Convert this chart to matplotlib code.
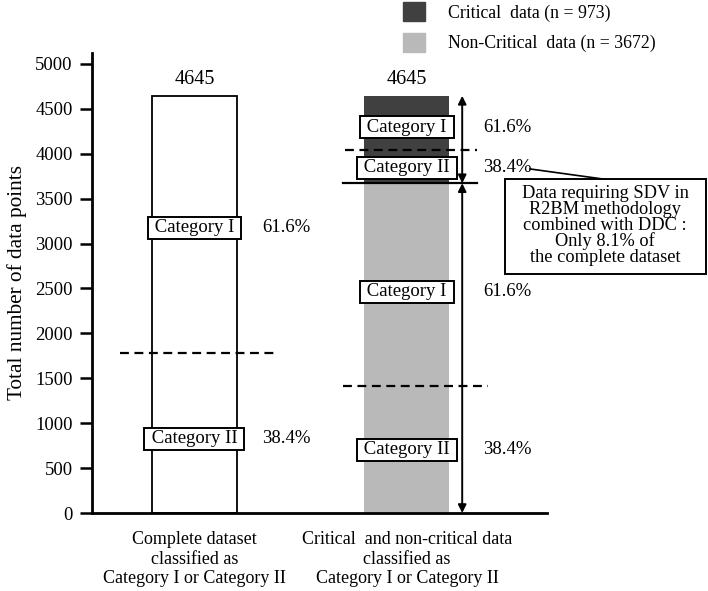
import matplotlib.pyplot as plt
from matplotlib.patches import Patch, Rectangle

plt.rcParams['font.family'] = ['Liberation Serif', 'DejaVu Serif']

# data
groups = ['Complete dataset\nclassified as\nCategory I or Category II',
          'Critical  and non-critical data\nclassified as\nCategory I or Category II']
total = 4645
critical = 973
non_critical = 3672
share_cat1 = 61.6
share_cat2 = 38.4
yticks = [0, 500, 1000, 1500, 2000, 2500, 3000, 3500, 4000, 4500, 5000]

dark = '#404040'
light = '#b9b9b9'

fig = plt.figure(figsize=(7.08, 5.91), dpi=100)
ax = fig.add_axes([92 / 708, 1 - 513 / 591, 455 / 708, 460 / 591])

xpos = [0, 1]
w = 0.4
ax.bar(xpos[0], total, width=w, color='white', edgecolor='black', linewidth=1.3, zorder=2)
ax.bar(xpos[1], non_critical, width=w, color=light, linewidth=0, zorder=2)
ax.bar(xpos[1], critical, bottom=non_critical, width=w, color=dark, linewidth=0, zorder=2)

for x in xpos:
    ax.text(x, total + 75, str(total), ha='center', va='bottom', fontsize=14.5)

# split lines
cat2_all = total * share_cat2 / 100
cat2_crit = non_critical + critical * share_cat2 / 100
cat2_non = non_critical * share_cat2 / 100
ds = (0, (4, 2.5))
ax.plot([-0.35, 0.39], [cat2_all, cat2_all], color='black', lw=1.6, ls=ds, zorder=3)
ax.plot([0.71, 1.33], [cat2_crit, cat2_crit], color='black', lw=1.6, ls=ds, zorder=3)
ax.plot([0.70, 1.38], [cat2_non, cat2_non], color='black', lw=1.6, ls=ds, zorder=3)
ax.plot([0.70, 1.33], [non_critical, non_critical], color='black', lw=1.6, zorder=3)

# arrows on the right of bar 2
ax_x = 1.26
for y0, y1 in [(non_critical, total), (0, non_critical)]:
    ax.annotate('', xy=(ax_x, y1), xytext=(ax_x, y0),
                arrowprops=dict(arrowstyle='<|-|>', color='black', lw=1.4,
                                mutation_scale=12, shrinkA=0, shrinkB=0),
                annotation_clip=False, zorder=4)

box = dict(boxstyle='square,pad=0.12', fc='white', ec='black', lw=1.4)
labels = [
    (xpos[0], 3174, 'Category I', share_cat1, 0.32),
    (xpos[0], 824, 'Category II', share_cat2, 0.32),
    (xpos[1], 4298, 'Category I', share_cat1, 1.36),
    (xpos[1], 3842, 'Category II', share_cat2, 1.36),
    (xpos[1], 2461, 'Category I', share_cat1, 1.36),
    (xpos[1], 702, 'Category II', share_cat2, 1.36),
]
for x, y, lab, pct, px in labels:
    ax.text(x, y, f' {lab} ', ha='center', va='center', fontsize=13.5, bbox=box, zorder=5)
    ax.text(px, y, f'{pct}%', ha='left', va='center', fontsize=13.5)

# callout box
ax.add_patch(Rectangle((1.461, 2661), 2.407 - 1.461, 3719 - 2661, fc='white', ec='black',
                       lw=1.4, clip_on=False, zorder=5))
ax.plot([1.579, 1.922], [3831, 3719], color='black', lw=1.2, clip_on=False, zorder=5)
ax.text(1.932, 3201, 'Data requiring SDV in\nR2BM methodology\ncombined with DDC :\nOnly 8.1% of\nthe complete dataset',
        ha='center', va='center', fontsize=13.2, linespacing=0.92, zorder=6)

ax.set_xlim(-0.482, 1.659)
ax.set_ylim(0, 5122)
ax.set_yticks(yticks)
ax.set_xticks(xpos)
ax.set_xticklabels(groups, fontsize=13, linespacing=1.2)
ax.tick_params(axis='x', length=0, pad=13)
ax.tick_params(axis='y', length=9, width=1.8, labelsize=13.4, pad=5)
for s in ['top', 'right']:
    ax.spines[s].set_visible(False)
for s in ['left', 'bottom']:
    ax.spines[s].set_linewidth(2)
ax.set_ylabel('Total number of data points', fontsize=15.3, labelpad=6)

handles = [Patch(color=dark), Patch(color=light)]
fig.legend(handles, [f'Critical  data (n = {critical})', f'Non-Critical  data (n = {non_critical})'],
           loc='upper left', bbox_to_anchor=(392 / 708, 1.014), frameon=False, fontsize=12.8,
           handlelength=1.25, handleheight=1.25, handletextpad=1.3, labelspacing=0.62,
           borderpad=0.1)

fig.savefig('out.png', dpi=100)
